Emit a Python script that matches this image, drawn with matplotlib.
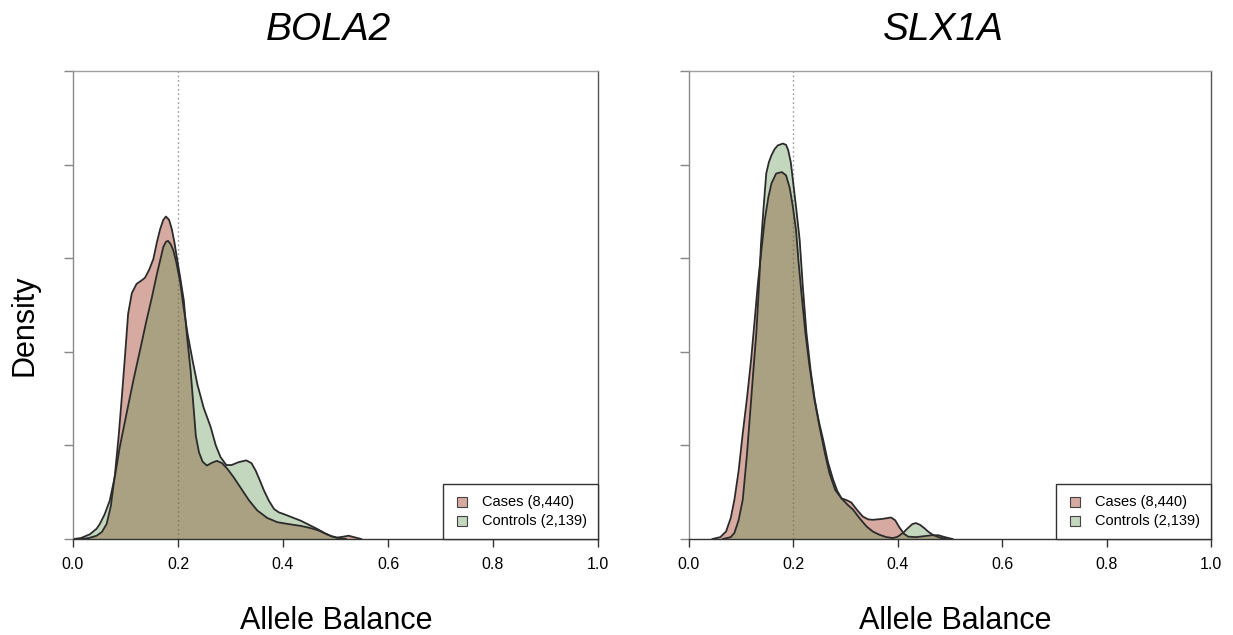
import matplotlib
matplotlib.use("Agg")
import matplotlib.pyplot as plt
from matplotlib.patches import Rectangle

plt.rcParams['font.family'] = ['Liberation Sans', 'DejaVu Sans']

# ---------------- data ----------------
genes = ["BOLA2", "SLX1A"]
legend_labels = ["Cases (8,440)", "Controls (2,139)"]
x_ticks = [0.0, 0.2, 0.4, 0.6, 0.8, 1.0]
x_tick_labels = ["0.0", "0.2", "0.4", "0.6", "0.8", "1.0"]
y_ticks = [0, 2, 4, 6, 8, 10]
ref_line = 0.2

bola2_cases_x = [0.015, 0.030, 0.045, 0.055, 0.064, 0.072, 0.080, 0.087, 0.093, 0.099,
                 0.105, 0.112, 0.121, 0.130, 0.137, 0.145, 0.153, 0.160, 0.166, 0.172,
                 0.177, 0.183, 0.188, 0.193, 0.198, 0.204, 0.211, 0.217, 0.224, 0.229,
                 0.234, 0.240, 0.247, 0.255, 0.265, 0.274, 0.284, 0.294, 0.306, 0.319,
                 0.335, 0.351, 0.370, 0.389, 0.410, 0.434, 0.450, 0.466, 0.480, 0.492,
                 0.503, 0.515, 0.525, 0.535, 0.549]
bola2_cases_y = [0.00, 0.02, 0.07, 0.15, 0.32, 0.70, 1.39, 2.20, 3.03, 3.90,
                 4.81, 5.25, 5.45, 5.52, 5.58, 5.75, 5.98, 6.35, 6.62, 6.82,
                 6.89, 6.82, 6.63, 6.35, 6.00, 5.60, 5.10, 4.35, 3.60, 2.90,
                 2.20, 1.85, 1.65, 1.57, 1.63, 1.67, 1.62, 1.50, 1.32, 1.10,
                 0.83, 0.61, 0.45, 0.36, 0.32, 0.28, 0.24, 0.19, 0.12, 0.06,
                 0.03, 0.05, 0.07, 0.04, 0.00]

bola2_ctrl_x = [0.000, 0.015, 0.032, 0.045, 0.051, 0.060, 0.070, 0.080, 0.089, 0.102,
                0.115, 0.128, 0.140, 0.150, 0.160, 0.167, 0.172, 0.177, 0.181, 0.186,
                0.191, 0.197, 0.204, 0.210, 0.218, 0.228, 0.237, 0.249, 0.262, 0.272,
                0.281, 0.292, 0.302, 0.315, 0.330, 0.340, 0.348, 0.356, 0.364, 0.373,
                0.383, 0.392, 0.402, 0.418, 0.434, 0.450, 0.466, 0.480, 0.492, 0.505,
                0.520]
bola2_ctrl_y = [0.00, 0.02, 0.10, 0.22, 0.32, 0.52, 0.82, 1.35, 1.96, 2.68,
                3.39, 4.05, 4.67, 5.15, 5.67, 6.00, 6.24, 6.35, 6.37, 6.30,
                6.17, 5.90, 5.50, 5.00, 4.40, 3.80, 3.30, 2.80, 2.40, 2.00,
                1.75, 1.58, 1.58, 1.64, 1.68, 1.62, 1.46, 1.25, 1.03, 0.82,
                0.64, 0.57, 0.53, 0.46, 0.39, 0.30, 0.21, 0.12, 0.06, 0.02,
                0.00]

slx1a_cases_x = [0.045, 0.060, 0.071, 0.080, 0.087, 0.095, 0.103, 0.111, 0.119, 0.126,
                 0.132, 0.139, 0.145, 0.152, 0.158, 0.167, 0.178, 0.186, 0.193, 0.199,
                 0.205, 0.210, 0.215, 0.223, 0.231, 0.240, 0.250, 0.260, 0.269, 0.280,
                 0.292, 0.302, 0.311, 0.322, 0.333, 0.343, 0.352, 0.371, 0.387, 0.395,
                 0.403, 0.412, 0.420, 0.435, 0.450, 0.465, 0.478, 0.490, 0.505]
slx1a_cases_y = [0.00, 0.04, 0.16, 0.45, 0.84, 1.45, 2.26, 3.00, 3.83, 4.70,
                 5.46, 6.20, 6.81, 7.30, 7.60, 7.81, 7.84, 7.77, 7.50, 7.10,
                 6.60, 5.90, 5.30, 4.40, 3.68, 3.00, 2.40, 1.85, 1.41, 1.05,
                 0.87, 0.83, 0.78, 0.62, 0.48, 0.42, 0.41, 0.43, 0.46, 0.40,
                 0.25, 0.11, 0.05, 0.04, 0.06, 0.08, 0.08, 0.04, 0.00]

slx1a_ctrl_x = [0.065, 0.080, 0.087, 0.095, 0.103, 0.111, 0.119, 0.124, 0.129, 0.134,
                0.138, 0.143, 0.148, 0.153, 0.158, 0.164, 0.170, 0.180, 0.186, 0.190,
                0.195, 0.199, 0.205, 0.212, 0.218, 0.225, 0.233, 0.241, 0.249, 0.257,
                0.266, 0.276, 0.284, 0.292, 0.303, 0.314, 0.327, 0.340, 0.352, 0.365,
                0.378, 0.391, 0.400, 0.410, 0.420, 0.428, 0.435, 0.443, 0.451, 0.459,
                0.467, 0.480, 0.493]
slx1a_ctrl_y = [0.00, 0.04, 0.13, 0.40, 0.84, 1.80, 2.97, 3.70, 4.40, 5.40,
                6.32, 7.10, 7.81, 8.05, 8.20, 8.33, 8.41, 8.45, 8.42, 8.31,
                8.05, 7.67, 7.10, 6.39, 5.40, 4.40, 3.60, 2.97, 2.50, 2.12,
                1.65, 1.27, 1.03, 0.87, 0.74, 0.63, 0.44, 0.27, 0.16, 0.09,
                0.04, 0.02, 0.05, 0.13, 0.24, 0.32, 0.34, 0.30, 0.23, 0.15,
                0.09, 0.03, 0.00]

panels = [
    (bola2_cases_x, bola2_cases_y, bola2_ctrl_x, bola2_ctrl_y),
    (slx1a_cases_x, slx1a_cases_y, slx1a_ctrl_x, slx1a_ctrl_y),
]

# ---------------- style ----------------
W, H = 1233, 635
case_col = (0.58, 0.13, 0.03)
ctrl_col = (0.39, 0.58, 0.33)
alpha = 0.38
edge = '#2b2b2b'

fig = plt.figure(figsize=(W / 100, H / 100), dpi=100)

def fx(px):
    return px / W

def fy(py):
    return 1 - py / H

axes_px = [(73, 598), (689, 1211)]
top_px, base_px = 71, 539
title_x = [328.5, 943.5]
xlabel_x = [336.5, 955]

for i, (cx, cy, kx, ky) in enumerate(panels):
    l, r = axes_px[i]
    ax = fig.add_axes([fx(l), fy(base_px), (r - l) / W, (base_px - top_px) / H])
    ax.set_xlim(0, 1)
    ax.set_ylim(0, 10)
    ax.fill_between(cx, cy, 0, color=case_col, alpha=alpha, lw=0)
    ax.fill_between(kx, ky, 0, color=ctrl_col, alpha=alpha, lw=0)
    ax.plot(cx, cy, color=edge, lw=1.3, solid_joinstyle='round')
    ax.plot(kx, ky, color=edge, lw=1.3, solid_joinstyle='round')
    ax.axvline(ref_line, color='#9a9a9a', ls=(0, (1.2, 2)), lw=1.0, zorder=0)

    ax.set_xticks(x_ticks)
    ax.set_xticklabels(x_tick_labels, fontsize=11.5)
    ax.set_yticks(y_ticks)
    ax.set_yticklabels([])
    ax.tick_params(axis='x', direction='out', length=6, width=1, color='#333333', pad=7)
    ax.tick_params(axis='y', direction='out', length=6.5, width=1, color='#888888')
    ax.spines['left'].set_color('#8a8a8a')
    ax.spines['top'].set_color('#a0a0a0')
    ax.spines['right'].set_color('#555555')
    ax.spines['bottom'].set_color('#333333')
    for s in ax.spines.values():
        s.set_linewidth(1.0)

    # legend box (bottom right, inside plot region)
    lx0, lx1 = r - 155, r
    ly0, ly1 = 484, base_px
    fig.add_artist(Rectangle((fx(lx0), fy(ly1)), (lx1 - lx0) / W, (ly1 - ly0) / H,
                             transform=fig.transFigure, facecolor='white',
                             edgecolor='#333333', lw=1.0, zorder=5))
    for j, (lab, col) in enumerate(zip(legend_labels, [case_col, ctrl_col])):
        cyp = 502 + j * 19
        fig.add_artist(Rectangle((fx(lx0 + 14), fy(cyp + 5)), 10 / W, 10 / H,
                                 transform=fig.transFigure, facecolor=col, alpha=alpha,
                                 edgecolor='none', zorder=6))
        fig.add_artist(Rectangle((fx(lx0 + 14), fy(cyp + 5)), 10 / W, 10 / H,
                                 transform=fig.transFigure, facecolor='none',
                                 edgecolor='#444444', lw=0.8, zorder=7))
        fig.text(fx(lx0 + 39), fy(cyp), lab, fontsize=10.5, va='center', ha='left', zorder=8)

    fig.text(fx(title_x[i]), fy(30), genes[i], fontsize=28, style='italic',
             ha='center', va='center')
    fig.text(fx(xlabel_x[i]), fy(621), "Allele Balance", fontsize=22,
             ha='center', va='center')

fig.text(fx(25), fy(325), "Density", fontsize=22, rotation=90, ha='center', va='center')

fig.savefig("out.png", dpi=100)
